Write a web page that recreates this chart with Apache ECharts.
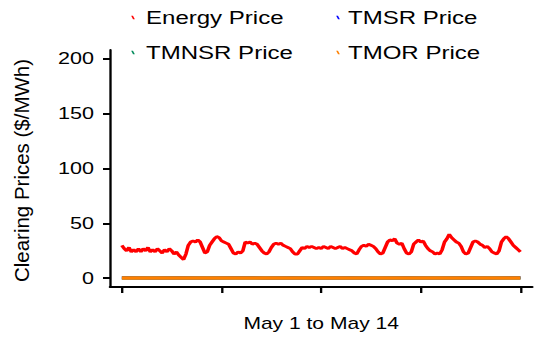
<!DOCTYPE html>
<html>
<head>
<meta charset="utf-8">
<script src="https://cdn.jsdelivr.net/npm/echarts@6/dist/echarts.min.js"></script>
<style>
  html, body { margin: 0; padding: 0; background: #fff; overflow: hidden; }
  /* The plot is laid out in a narrower frame and widened horizontally,
     so glyphs and marks carry the same wide aspect as the printed figure. */
  #chart { height: 338px; transform-origin: 0 0; }
</style>
</head>
<body>
<div id="chart"></div>
<script>
// Clearing prices, May 1 to May 14 (hour index 0..336)
const seriesNames = ['Energy Price', 'TMSR Price', 'TMNSR Price', 'TMOR Price'];
const seriesColors = ['#ff0000', '#0000ff', '#008b5a', '#ff8000'];
const yTitle = 'Clearing Prices ($/MWh)';
const xTitle = 'May 1 to May 14';

// Energy price, sampled every 2 hours ($/MWh)
const energyStepHours = 2;
const energyPrice = [
  30, 27, 25, 28, 24, 26, 24, 27, 24, 27,
  25, 28, 24, 26, 24, 27, 25, 23, 26, 24,
  27, 25, 22, 24, 21, 19, 17, 22, 30, 33,
  34, 33, 35, 33, 28, 23, 24, 30, 33, 36,
  38, 37, 34, 33, 32, 31, 27, 23, 22, 24,
  23, 25, 33, 32, 33, 31, 32, 31, 28, 25,
  23, 22, 24, 28, 31, 32, 31, 32, 30, 29,
  28, 27, 24, 22, 22, 25, 28, 27, 29, 28,
  29, 28, 27, 28, 27, 29, 28, 27, 29, 28,
  27, 28, 29, 27, 28, 27, 26, 25, 23, 22,
  26, 29, 30, 29, 31, 30, 29, 27, 24, 22,
  23, 28, 33, 35, 34, 36, 32, 31, 32, 27,
  23, 22, 24, 31, 33, 35, 33, 34, 30, 27,
  25, 24, 22, 23, 22, 26, 33, 36, 40, 37,
  35, 33, 32, 29, 24, 22, 23, 28, 33, 34,
  33, 31, 30, 28, 29, 27, 24, 23, 22, 25,
  33, 36, 38, 36, 33, 30, 28, 26, 24
];

// Reserve prices, sampled every 24 hours ($/MWh)
const reserveStepHours = 24;
const tmsrPrice  = [0.4, 0.3, 0.4, 0.3, 0.4, 0.3, 0.4, 0.3, 0.4, 0.3, 0.4, 0.3, 0.4, 0.3, 0.4];
const tmnsrPrice = [0.3, 0.2, 0.3, 0.2, 0.3, 0.2, 0.3, 0.2, 0.3, 0.2, 0.3, 0.2, 0.3, 0.2, 0.3];
const tmorPrice  = [0.2, 0.2, 0.2, 0.2, 0.2, 0.2, 0.2, 0.2, 0.2, 0.2, 0.2, 0.2, 0.2, 0.2, 0.2];

const yTicks = [0, 50, 100, 150, 200];
const xTicks = [0, 84, 168, 252, 336];

const toPairs = (vals, step) => vals.map((v, i) => [i * step, v]);

// Horizontal widening of the whole figure
const STRETCH = 1.3;
const PAGE_W = 534;
const u = px => px / STRETCH;   // page pixels -> layout units (horizontal only)

const dom = document.getElementById('chart');
dom.style.width = u(PAGE_W) + 'px';
dom.style.transform = 'scaleX(' + STRETCH + ')';

const chart = echarts.init(dom, null, { renderer: 'svg' });

const FONT = 'Liberation Sans';
const dashIcon = 'path://M0,0 L2,0 L4,5 L2,5 Z';
const ICON_W = 2.8;
const legendAt = (idx, iconCenterPx, textStartPx, top) => {
  const left = u(iconCenterPx) - ICON_W / 2;
  const pad = u(textStartPx) - (left + ICON_W + 5);
  return {
    data: [{ name: seriesNames[idx], itemStyle: { color: seriesColors[idx] } }],
    left: left, top: top, icon: dashIcon,
    itemWidth: ICON_W, itemHeight: 5, padding: 0, selectedMode: false,
    textStyle: { fontFamily: FONT, fontSize: 18.5, color: '#000', padding: [0, 0, 0, pad] }
  };
};

chart.setOption({
  animation: false,
  backgroundColor: '#fff',
  color: seriesColors,
  legend: [
    legendAt(0, 133, 146, 8),
    legendAt(1, 338, 348, 8),
    legendAt(2, 133, 146, 43),
    legendAt(3, 338, 348, 43)
  ],
  // Rotated y title, kept at its natural proportions inside the widened frame
  graphic: [{
    type: 'text',
    x: u(22), y: 170.5,
    rotation: Math.PI / 2,
    scaleX: 1, scaleY: 1 / STRETCH,
    style: {
      text: yTitle, fontFamily: FONT, fontSize: 20.5, fill: '#000',
      align: 'center', verticalAlign: 'middle',
      textAlign: 'center', textVerticalAlign: 'middle'
    }
  }],
  grid: {
    left: u(110), right: u(2), top: 50, bottom: 51,
    containLabel: false, outerBoundsMode: 'none'
  },
  xAxis: {
    type: 'value', min: -10, max: 346,
    name: xTitle, nameLocation: 'middle', nameGap: 28,
    nameTextStyle: { fontFamily: FONT, fontSize: 16.2, color: '#000' },
    axisLine: { show: true, onZero: false, lineStyle: { color: '#000', width: 2 } },
    axisTick: { show: true, customValues: xTicks, length: 6, lineStyle: { color: '#000', width: 1.8 } },
    axisLabel: { show: false },
    splitLine: { show: false }
  },
  yAxis: {
    type: 'value', min: -8, max: 208,
    axisLine: { show: true, onZero: false, lineStyle: { color: '#000', width: 1.8 } },
    axisTick: { show: true, customValues: yTicks, length: u(7), lineStyle: { color: '#000', width: 2 } },
    axisLabel: { customValues: yTicks, margin: u(16), fontFamily: FONT, fontSize: 16.6, color: '#000' },
    splitLine: { show: false }
  },
  series: [
    { name: seriesNames[0], type: 'line', data: toPairs(energyPrice, energyStepHours),
      showSymbol: false, lineStyle: { width: 2.8, color: seriesColors[0] }, z: 5 },
    { name: seriesNames[1], type: 'line', data: toPairs(tmsrPrice, reserveStepHours),
      showSymbol: false, lineStyle: { width: 3, color: seriesColors[1] }, z: 2 },
    { name: seriesNames[2], type: 'line', data: toPairs(tmnsrPrice, reserveStepHours),
      showSymbol: false, lineStyle: { width: 3, color: seriesColors[2] }, z: 3 },
    { name: seriesNames[3], type: 'line', data: toPairs(tmorPrice, reserveStepHours),
      showSymbol: false, lineStyle: { width: 3.5, color: seriesColors[3] }, z: 4 }
  ]
});
</script>
</body>
</html>
